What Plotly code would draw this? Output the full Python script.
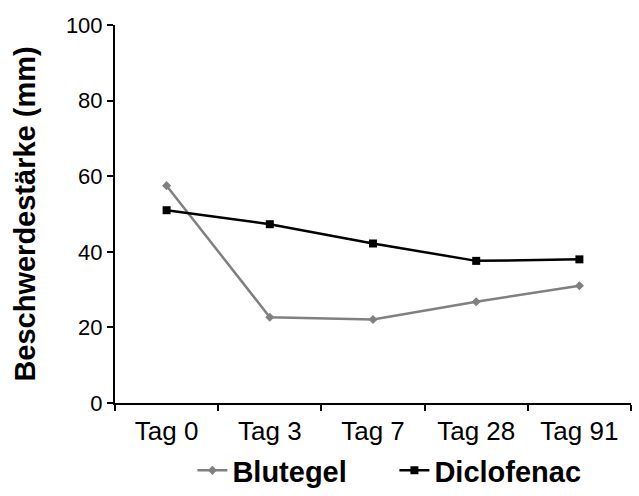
import plotly.graph_objects as go

categories = ["Tag 0", "Tag 3", "Tag 7", "Tag 28", "Tag 91"]
blutegel = [57.5, 22.7, 22.1, 26.8, 31.0]
diclofenac = [51.0, 47.3, 42.2, 37.6, 38.0]
y_ticks = [0, 20, 40, 60, 80, 100]

FONT = "Liberation Sans"

fig = go.Figure()
fig.add_trace(go.Scatter(
    x=categories, y=blutegel, name="Blutegel", mode="lines+markers",
    line=dict(color="#808080", width=2.5),
    marker=dict(symbol="diamond", size=7, color="#808080"),
))
fig.add_trace(go.Scatter(
    x=categories, y=diclofenac, name="Diclofenac", mode="lines+markers",
    line=dict(color="#000000", width=2.5),
    marker=dict(symbol="square", size=8, color="#000000"),
))

fig.update_layout(
    width=639, height=496,
    margin=dict(l=115, r=8, t=25, b=93, autoexpand=False),
    paper_bgcolor="white", plot_bgcolor="white",
    font=dict(family=FONT, color="black", size=20),
    showlegend=True,
    legend=dict(orientation="h", x=0.15, xanchor="left",
                yref="container", y=0.0, yanchor="bottom",
                font=dict(size=29, family=FONT, weight="bold"),
                entrywidth=157, tracegroupgap=0),
    xaxis=dict(
        type="category", range=[-0.5, 4.5], tickson="boundaries",
        showline=True, linecolor="black", linewidth=2,
        ticks="outside", ticklen=6, tickcolor="black", tickwidth=1.5,
        showgrid=False, zeroline=False, ticklabelstandoff=4,
        tickfont=dict(size=26, family=FONT),
    ),
    yaxis=dict(
        range=[0, 100], tickvals=y_ticks,
        showline=True, linecolor="black", linewidth=2,
        ticks="outside", ticklen=6, tickcolor="black", tickwidth=1.5,
        showgrid=False, zeroline=False,
        tickfont=dict(size=22, family=FONT),
        title=dict(text="Beschwerdestärke (mm)", standoff=22,
                   font=dict(size=29, family=FONT, weight="bold")),
    ),
)

fig.write_html("out.html")
